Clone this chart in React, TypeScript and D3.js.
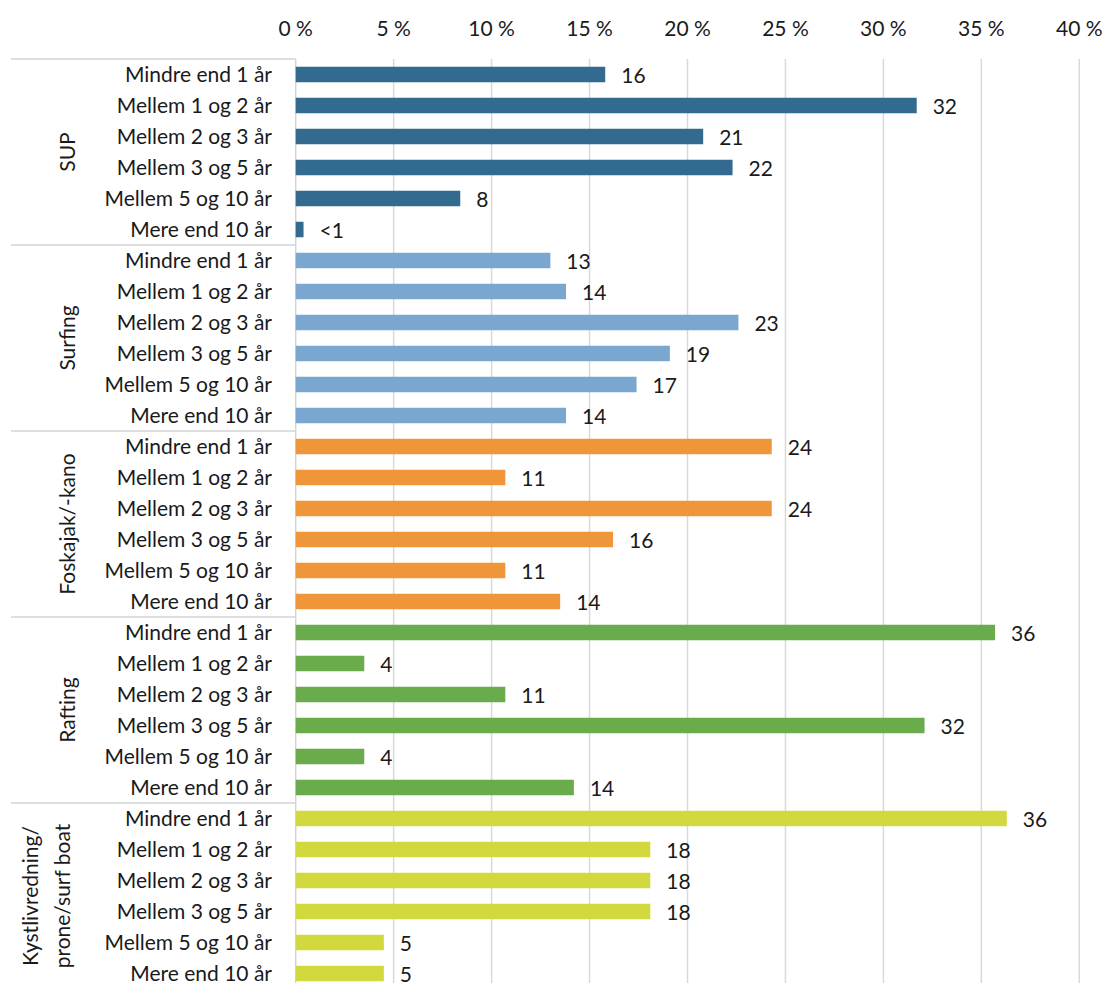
import React from "react";
import * as d3 from "d3";

const groups = ["SUP", "Surfing", "Foskajak/-kano", "Rafting", "Kystlivredning/\nprone/surf boat"];
const categories = ["Mindre end 1 år", "Mellem 1 og 2 år", "Mellem 2 og 3 år", "Mellem 3 og 5 år", "Mellem 5 og 10 år", "Mere end 10 år"];
const supValues = [15.8, 31.7, 20.8, 22.3, 8.4, 0.4];
const surfingValues = [13.0, 13.8, 22.6, 19.1, 17.4, 13.8];
const foskajakValues = [24.3, 10.7, 24.3, 16.2, 10.7, 13.5];
const raftingValues = [35.7, 3.5, 10.7, 32.1, 3.5, 14.2];
const kystValues = [36.3, 18.1, 18.1, 18.1, 4.5, 4.5];
const supLabels = ["16", "32", "21", "22", "8", "<1"];
const surfingLabels = ["13", "14", "23", "19", "17", "14"];
const foskajakLabels = ["24", "11", "24", "16", "11", "14"];
const raftingLabels = ["36", "4", "11", "32", "4", "14"];
const kystLabels = ["36", "18", "18", "18", "5", "5"];
const colors = ["#326a90", "#7aa7d0", "#f0963a", "#6aac4c", "#d1d93f"];
const xTicks = [0, 5, 10, 15, 20, 25, 30, 35, 40];

const allValues = [supValues, surfingValues, foskajakValues, raftingValues, kystValues];
const allLabels = [supLabels, surfingLabels, foskajakLabels, raftingLabels, kystLabels];

export default function App() {
  const width = 1105;
  const height = 983;
  const left = 295.7;
  const right = 1079.3;
  const top = 59;
  const rowH = 31;
  const nRows = groups.length * categories.length;
  const x = d3.scaleLinear().domain([0, 40]).range([left, right]);
  const rows = groups.flatMap((g, gi) => categories.map((c, ci) => `${gi}|${ci}`));
  const y = d3.scaleBand().domain(rows).range([top, top + nRows * rowH]).paddingInner(0.5).paddingOuter(0.25);
  const font = "Lato, 'Open Sans', sans-serif";
  const fs = 21;
  const bottom = top + nRows * rowH;

  return (
    <svg width={width} height={height} style={{ position: "absolute", left: 0, top: 0 }} fontFamily={font}>
      <rect width={width} height={height} fill="#fff" />
      {xTicks.map((t) => (
        <g key={t}>
          {t > 0 && <line x1={x(t)} x2={x(t)} y1={top} y2={bottom} stroke="#d9d9d9" strokeWidth={1.5} />}
          <text x={x(t)} y={35.5} textAnchor="middle" fontSize={fs} fill="#1a1a1a">{`${t} %`}</text>
        </g>
      ))}
      <line x1={left} x2={left} y1={top} y2={bottom} stroke="#d4d4d4" strokeWidth={1.5} />
      {groups.map((g, gi) => (
        <line key={"sep" + gi} x1={11} x2={left} y1={top + gi * 6 * rowH} y2={top + gi * 6 * rowH} stroke="#d4d4d4" strokeWidth={1.5} />
      ))}
      {groups.map((g, gi) => {
        const cy = top + (gi * 6 + 3) * rowH;
        const lines = g.split("\n");
        const cx = lines.length > 1 ? 46 : 67;
        return (
          <text key={"g" + gi} transform={`translate(${cx},${cy}) rotate(-90)`} textAnchor="middle" fontSize={fs} fill="#1a1a1a">
            {lines.map((l, li) => (
              <tspan key={li} x={0} dy={li === 0 ? (lines.length > 1 ? -16 + 7.5 : 7.5) : 32}>{l}</tspan>
            ))}
          </text>
        );
      })}
      {groups.map((g, gi) =>
        categories.map((c, ci) => {
          const key = `${gi}|${ci}`;
          const v = allValues[gi][ci];
          const yy = y(key)!;
          const cy = yy + y.bandwidth() / 2;
          return (
            <g key={key}>
              <text x={272} y={cy + 7.5} textAnchor="end" fontSize={fs} fill="#1a1a1a">{c}</text>
              <rect x={x(0)} y={yy} width={x(v) - x(0)} height={y.bandwidth()} fill={colors[gi]} />
              <text x={x(v) + 16} y={cy + 8} fontSize={fs} fill="#1a1a1a">{allLabels[gi][ci]}</text>
            </g>
          );
        })
      )}
    </svg>
  );
}
